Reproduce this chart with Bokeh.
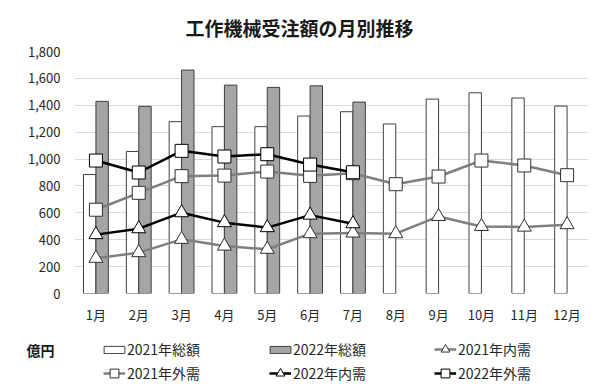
from bokeh.plotting import figure
from bokeh.layouts import column
from bokeh.models import (ColumnDataSource, FactorRange, Range1d, FixedTicker,
                          NumeralTickFormatter, Legend, LegendItem)
from bokeh.transform import dodge
from bokeh.embed import file_html
from bokeh.resources import INLINE

months = ["1月", "2月", "3月", "4月", "5月", "6月", "7月", "8月", "9月", "10月", "11月", "12月"]
total_2021 = [885, 1056, 1278, 1241, 1241, 1320, 1352, 1261, 1446, 1493, 1454, 1394]
total_2022 = [1429, 1392, 1662, 1550, 1533, 1545, 1424]
dom_2021 = [262, 304, 403, 353, 329, 445, 450, 445, 573, 499, 494, 512]
ext_2021 = [623, 749, 873, 877, 907, 875, 895, 813, 870, 989, 952, 880]
dom_2022 = [438, 482, 601, 527, 490, 583, 519]
ext_2022 = [989, 900, 1061, 1019, 1036, 959, 902]
y_ticks = [0, 200, 400, 600, 800, 1000, 1200, 1400, 1600, 1800]
unit_label = "億円"

FONT = "Noto Sans CJK JP"
GRAY_LINE = "#7f7f7f"
BAR_GRAY = "#a5a5a5"
OUTLINE = "#404040"
TEXT = "#262626"

src21 = ColumnDataSource(dict(m=months, total=total_2021, dom=dom_2021, ext=ext_2021))
src22 = ColumnDataSource(dict(m=months[:7], total=total_2022, dom=dom_2022, ext=ext_2022))

p = figure(width=600, height=330, x_range=FactorRange(*months, range_padding=0),
           y_range=Range1d(0, 1800), output_backend="svg", toolbar_location=None,
           min_border_left=74, min_border_right=12, min_border_top=51, min_border_bottom=37,
           title="工作機械受注額の月別推移")
p.outline_line_color = None
p.title.align = "left"
p.title.offset = 111
p.title.text_font = FONT
p.title.text_font_size = "19px"
p.title.text_font_style = "bold"
p.title.text_color = "#1a1a1a"
p.title.standoff = 21

bar_style = dict(line_color=OUTLINE, line_width=1)
series = [
    (src21, "dom", GRAY_LINE, "#303030", "triangle", 14),
    (src21, "ext", GRAY_LINE, "#303030", "square", 13),
    (src22, "dom", "black", "black", "triangle", 14),
    (src22, "ext", "black", "black", "square", 13),
]

p.vbar(x=dodge("m", -0.145, range=p.x_range), top="total", width=0.29, source=src21,
       fill_color="white", **bar_style)
p.vbar(x=dodge("m", 0.145, range=p.x_range), top="total", width=0.29, source=src22,
       fill_color=BAR_GRAY, **bar_style)
for src, col, lc, mc, mk, sz in series:
    p.line("m", col, source=src, line_color=lc, line_width=2.5)
    p.scatter("m", col, source=src, marker=mk, size=sz,
              fill_color="white", line_color=mc, line_width=1)

p.yaxis.ticker = FixedTicker(ticks=y_ticks)
p.yaxis.formatter = NumeralTickFormatter(format="0,0")
for ax in (p.xaxis, p.yaxis):
    ax.axis_line_color = None
    ax.major_tick_line_color = None
    ax.minor_tick_line_color = None
    ax.major_label_text_font = FONT
    ax.major_label_text_font_size = "13px"
    ax.major_label_text_color = TEXT
p.yaxis.major_label_standoff = 8
p.xaxis.major_label_standoff = 5

p.xgrid.grid_line_color = None
p.ygrid.ticker = FixedTicker(ticks=y_ticks)
p.ygrid.grid_line_color = "#d9d9d9"
p.ygrid.grid_line_width = 1

# ---- legend strip: swatch renderers use the same data, placed far outside its
# (flipped) 0..1 ranges and drawn with zero size, so only the legend swatches are seen.
lg_fig = figure(width=600, height=62, x_range=Range1d(-1, 0), y_range=Range1d(1, 0),
                output_backend="svg", toolbar_location=None, x_axis_location=None,
                min_border_left=74, min_border_right=12, min_border_top=0, min_border_bottom=0)
lg_fig.grid.visible = False
lg_fig.outline_line_color = None
unit_tick = 19 / 62
lg_fig.yaxis.ticker = FixedTicker(ticks=[unit_tick])
lg_fig.yaxis.major_label_overrides = {unit_tick: unit_label}
lg_fig.yaxis.axis_line_color = None
lg_fig.yaxis.major_tick_line_color = None
lg_fig.yaxis.minor_tick_line_color = None
lg_fig.yaxis.major_label_text_font = FONT
lg_fig.yaxis.major_label_text_font_size = "14px"
lg_fig.yaxis.major_label_text_font_style = "bold"
lg_fig.yaxis.major_label_text_color = "#1a1a1a"
lg_fig.yaxis.major_label_standoff = 14

k_b21 = lg_fig.vbar(x="total", top="total", bottom="total", width=0, source=src21,
                    fill_color="white", **bar_style)
k_b22 = lg_fig.vbar(x="total", top="total", bottom="total", width=0, source=src22,
                    fill_color=BAR_GRAY, **bar_style)
keys = []
for src, col, lc, mc, mk, sz in series:
    l = lg_fig.line(col, col, source=src, line_color=lc, line_width=2.5)
    s = lg_fig.scatter(col, col, source=src, marker=mk, size=0,
                       fill_color="white", line_color=mc, line_width=1)
    keys.append([l, s])
k_d21, k_e21, k_d22, k_e22 = keys

def add_legend(label, renderers, x, yc, gw, gh, standoff):
    lh = 22
    lg = Legend(items=[LegendItem(label=label, renderers=renderers)],
                location=(x, yc - lh / 2), padding=0, margin=0, spacing=0,
                glyph_width=gw, glyph_height=gh, label_height=lh, label_standoff=standoff,
                label_text_font=FONT, label_text_font_size="14px",
                label_text_color=TEXT,
                border_line_color=None, background_fill_alpha=0)
    lg_fig.add_layout(lg, "center")

add_legend("2021年総額", [k_b21], 27, 43, 26, 9, 0)
add_legend("2022年総額", [k_b22], 193, 43, 26, 9, 0)
add_legend("2021年内需", k_d21, 360, 43, 22, 22, 2)
add_legend("2021年外需", k_e21, 29, 19, 22, 22, 2)
add_legend("2022年内需", k_d22, 195, 19, 22, 22, 2)
add_legend("2022年外需", k_e22, 360, 19, 22, 22, 2)

layout = column(p, lg_fig, spacing=0)
open("out.html", "w").write(file_html(layout, INLINE))
